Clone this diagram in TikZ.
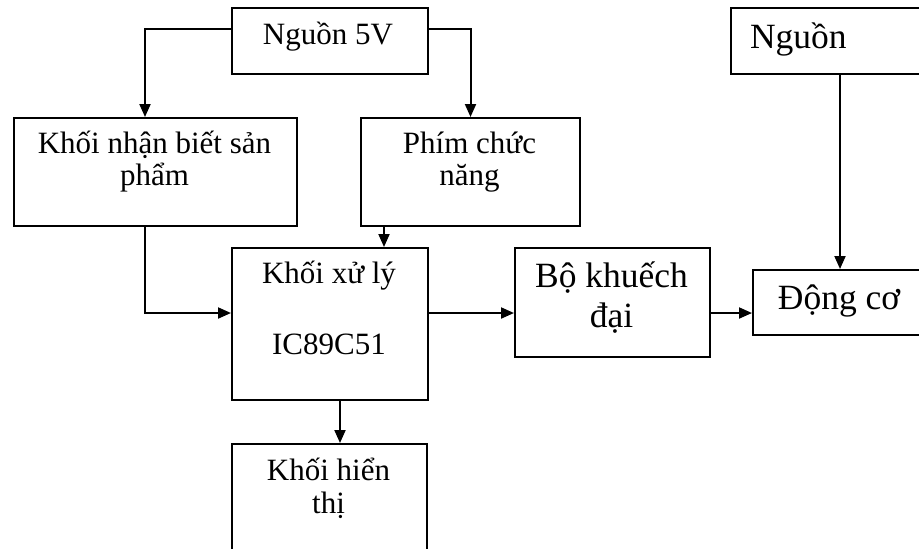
\documentclass[tikz,border=0pt]{standalone}
\usepackage{fontspec}
\setmainfont{Liberation Serif}
\usetikzlibrary{arrows.meta}

\begin{document}
\begin{tikzpicture}[
        x=0.5pt,y=-0.5pt,
        line width=1pt,
        blk/.style={draw,anchor=north west,inner sep=0pt},
        txt/.style={anchor=base,inner sep=0pt,align=center,
          font=\fontsize{15.5pt}{16.25pt}\selectfont},
        bigtxt/.style={txt,font=\fontsize{17.75pt}{20pt}\selectfont},
        >={Triangle[length=6.5pt,width=5.5pt]}
      ]
      \useasboundingbox (0,0) rectangle (919,548);
      \clip (0,0) rectangle (919,548);
      \node[blk,minimum width=98pt,minimum height=33pt] (p5v) at (231,7) {};
      \node[blk,minimum width=115pt,minimum height=33pt] (pwr) at (730,7) {};
      \node[blk,minimum width=141.5pt,minimum height=54pt] (sensor) at (13,117) {};
      \node[blk,minimum width=109.5pt,minimum height=54pt] (keys) at (360,117) {};
      \node[blk,minimum width=98pt,minimum height=76pt] (cpu) at (231,247) {};
      \node[blk,minimum width=97.5pt,minimum height=60pt] (disp) at (231,443) {};
      \node[blk,minimum width=97.5pt,minimum height=54.5pt] (amp) at (514,247) {};
      \node[blk,minimum width=87pt,minimum height=32.5pt] (motor) at (752,269) {};
      \node[txt] (p5vtxt) at (328,44) {Nguồn 5V};
      \node[bigtxt,anchor=base west] (pwrtxt) at (749,48) {Nguồn};
      \node[txt] (sensortxt) at (154.5,185.5) {Khối nhận biết sản\\phẩm};
      \node[txt] (keystxt) at (469.5,185.5) {Phím chức\\năng};
      \node[txt,font=\fontsize{15.5pt}{17.75pt}\selectfont] (cputxt) at (329,354) {Khối xử lý\\\\IC89C51};
      \node[txt] (disptxt) at (328.5,513) {Khối hiển\\thị};
      \node[bigtxt] (amptxt) at (611.5,327) {Bộ khuếch\\đại};
      \node[bigtxt] (motortxt) at (839,309) {Động cơ};
      \draw[->] ([yshift=6pt]p5v.west) -| ([xshift=-5.25pt]sensor.north);
      \draw[->] ([yshift=6pt]p5v.east) -| (keys.north);
      \draw[->] ([xshift=-5.25pt]sensor.south) |- ([yshift=5.5pt]cpu.west);
      \draw[->] ([xshift=-43.25pt]keys.south) -- ([xshift=-43.25pt]keys.south |- cpu.north);
      \draw[->] ([xshift=5pt]cpu.south) -- ([xshift=5pt]cpu.south |- disp.north);
      \draw[->] ([yshift=5.5pt]cpu.east) -- ([yshift=5.5pt]cpu.east -| amp.west);
      \draw[->] ([yshift=-5.25pt]amp.east) -- ([yshift=-5.25pt]amp.east -| motor.west);
      \draw[->] (pwr.south -| motor.north) -- (motor.north);
    \end{tikzpicture}
\end{document}
